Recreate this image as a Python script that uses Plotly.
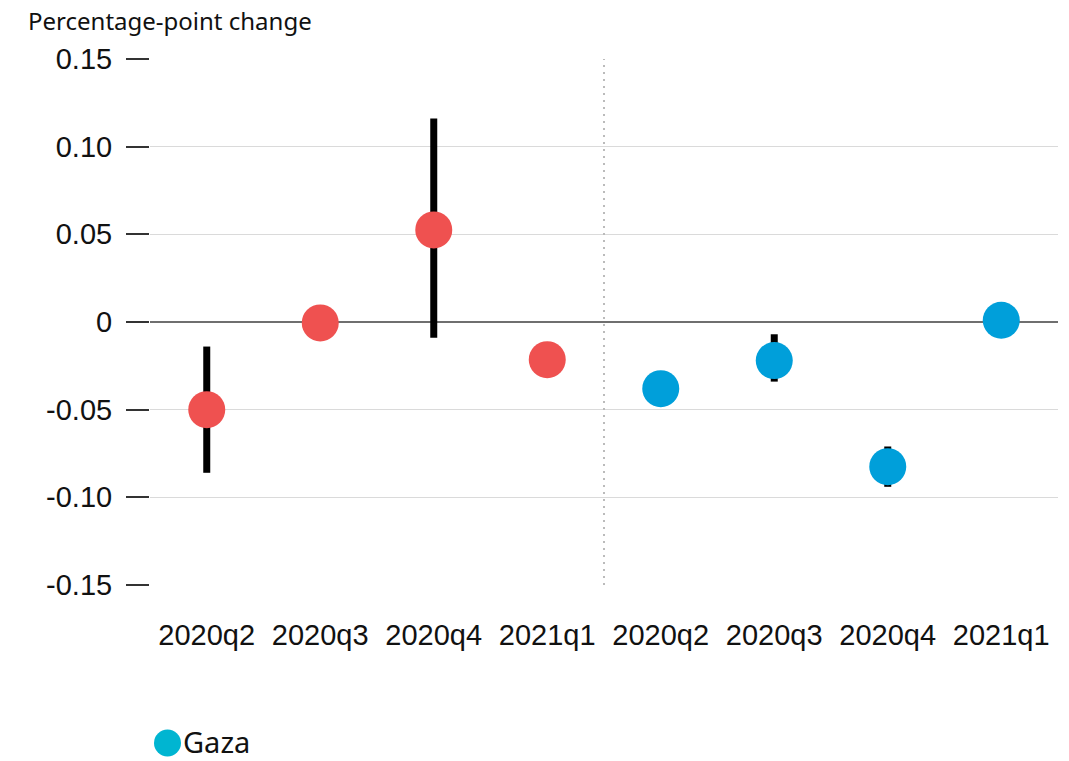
import plotly.graph_objects as go

# Quarters shown for each territory
quarters = ["2020q2", "2020q3", "2020q4", "2021q1"]

# West Bank: point estimates and confidence bounds (percentage points)
wb_est = [-0.050, -0.0005, 0.0525, -0.0215]
wb_low = [-0.086, -0.0005, -0.009, -0.0215]
wb_high = [-0.014, -0.0005, 0.116, -0.0215]

# Gaza: point estimates and confidence bounds (percentage points)
gaza_est = [-0.038, -0.022, -0.0825, 0.001]
gaza_low = [-0.038, -0.034, -0.094, 0.001]
gaza_high = [-0.038, -0.007, -0.071, 0.001]

y_ticks = [-0.15, -0.10, -0.05, 0, 0.05, 0.10, 0.15]
y_tick_text = ["-0.15", "-0.10", "-0.05", "0", "0.05", "0.10", "0.15"]

RED = "#EF5150"
BLUE = "#009FDA"
LEGEND_BLUE = "#00B5D1"

n = len(quarters)
x_wb = list(range(n))
x_gaza = list(range(n, 2 * n))

fig = go.Figure()


def add_group(xs, est, low, high, color, name):
    # confidence intervals first, so the dots sit on top of them
    fig.add_trace(go.Scatter(
        x=xs, y=est, mode="markers",
        marker=dict(size=1, color="rgba(0,0,0,0)"),
        error_y=dict(
            type="data", symmetric=False,
            array=[h - e for h, e in zip(high, est)],
            arrayminus=[e - l for e, l in zip(est, low)],
            color="black", thickness=7, width=0,
        ),
        showlegend=False, hoverinfo="skip",
    ))
    fig.add_trace(go.Scatter(
        x=xs, y=est, mode="markers", name=name,
        marker=dict(size=37, color=color, line=dict(width=0)),
        showlegend=False,
    ))


add_group(x_wb, wb_est, wb_low, wb_high, RED, "West Bank")
add_group(x_gaza, gaza_est, gaza_low, gaza_high, BLUE, "Gaza")

fig.update_layout(
    width=1069, height=761,
    margin=dict(l=150, r=11, t=59, b=176),
    paper_bgcolor="white", plot_bgcolor="white",
    font=dict(family="Liberation Sans, Arial, sans-serif", color="#111111"),
    xaxis=dict(
        range=[-0.5, 2 * n - 0.5],
        tickmode="array",
        tickvals=x_wb + x_gaza,
        ticktext=quarters + quarters,
        tickfont=dict(size=29, color="#111111"),
        showgrid=False, zeroline=False, showline=False,
        ticks="outside", ticklen=24, tickcolor="rgba(0,0,0,0)",
    ),
    yaxis=dict(
        range=[-0.15, 0.15],
        tickmode="array", tickvals=y_ticks, ticktext=y_tick_text,
        tickfont=dict(size=29, color="#111111"),
        showgrid=True, gridcolor="#DADADA", gridwidth=1,
        zeroline=True, zerolinecolor="#6F6F6F", zerolinewidth=2,
        showline=False,
        ticks="outside", ticklen=23, tickwidth=2, tickcolor="#333333",
        ticklabelstandoff=8,
    ),
    annotations=[
        dict(text="Percentage-point change", xref="paper", yref="paper",
             x=-150 / 908 + 26 / 908, y=1 + 38 / 526, xanchor="left", yanchor="middle",
             showarrow=False, font=dict(family="Noto Sans", size=24, color="#111111")),
        dict(text="Gaza", xref="paper", yref="paper",
             x=32 / 908, y=-156 / 526, xanchor="left", yanchor="middle",
             showarrow=False, borderpad=0,
             font=dict(family="Noto Sans", size=29, color="#111111")),
    ],
    shapes=[
        # legend swatch
        dict(type="circle", xref="paper", yref="paper",
             x0=4 / 908, x1=31 / 908, y0=-171.5 / 526, y1=-144.5 / 526,
             fillcolor=LEGEND_BLUE, line=dict(width=0)),
        # divider between the two territories
        dict(type="line", xref="x", yref="y",
             x0=n - 0.5, x1=n - 0.5, y0=-0.15, y1=0.15,
             line=dict(color="#BBBBBB", width=2, dash="2px,5px"), layer="above"),
    ],
)

fig.write_html("out.html")
